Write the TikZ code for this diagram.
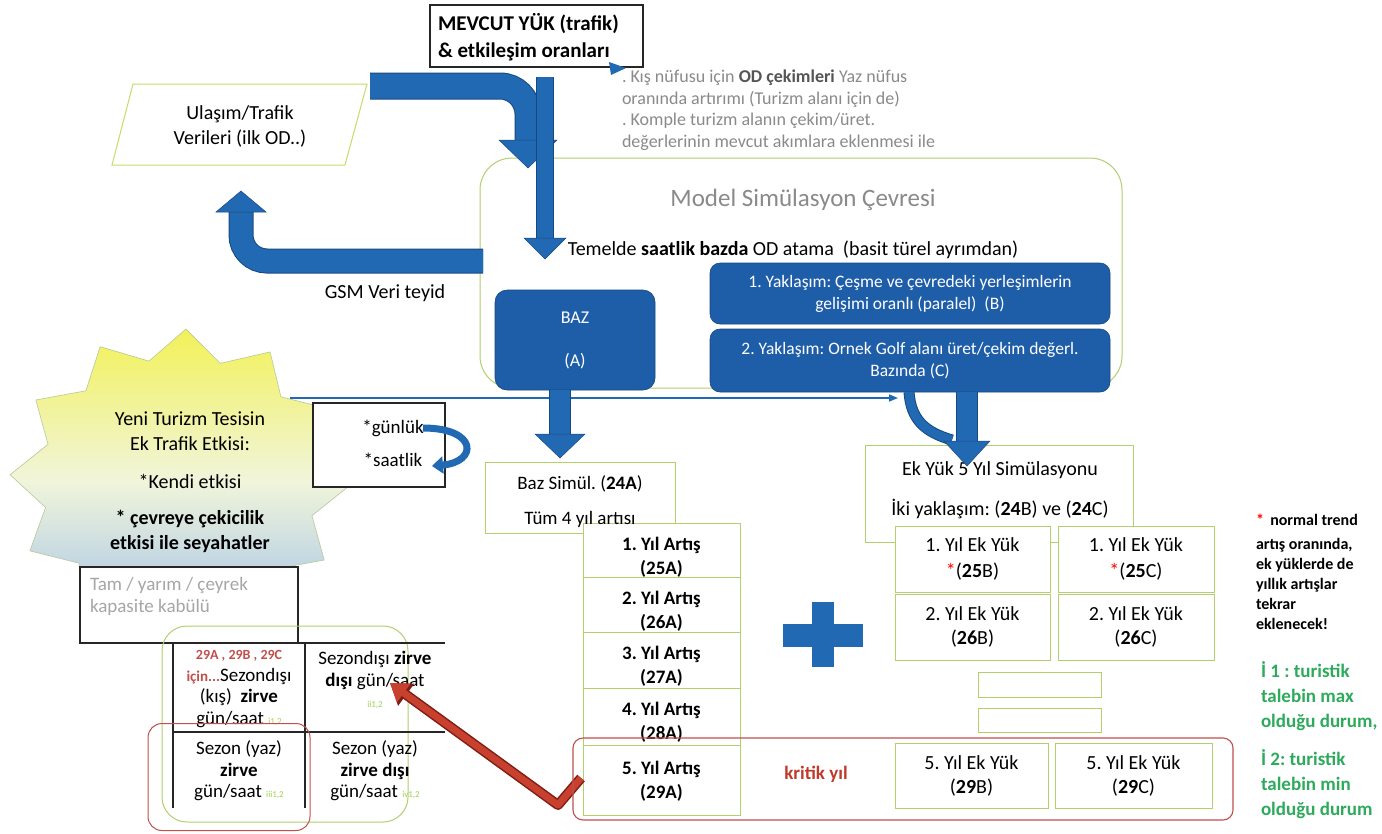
\documentclass[tikz,border=0pt]{standalone}
\usepackage{fontspec}
\setmainfont{Carlito}
\usetikzlibrary{arrows.meta}
\definecolor{bfill}{HTML}{1E5EA8}
\definecolor{bdark}{HTML}{17497F}
\definecolor{bband}{HTML}{2169B3}
\definecolor{gline}{HTML}{B3CF6E}
\definecolor{yline}{HTML}{C9DA6A}
\definecolor{rline}{HTML}{C0504D}
\definecolor{rtext}{HTML}{C0392B}
\definecolor{rarrow}{HTML}{C8402E}
\definecolor{rdark}{HTML}{7F1D14}
\definecolor{ngreen}{HTML}{2EAA5C}
\definecolor{lgreen}{HTML}{9BD34A}
\definecolor{tgray}{HTML}{8A8A8A}
\definecolor{dgray}{HTML}{555555}
\definecolor{lgray}{HTML}{A6A6A6}
\definecolor{starY}{HTML}{F2F158}
\definecolor{starM}{HTML}{F1F5DA}
\definecolor{starB}{HTML}{9EBFEA}
\definecolor{starL}{HTML}{B8C89A}
\newcommand\myfs[2]{\fontsize{#1}{#2}\selectfont}
\frenchspacing
\begin{document}
\begin{tikzpicture}[x=1pt,y=-1pt,
  every node/.style={inner sep=0pt,outer sep=0pt},
  gbox/.style={draw=gline,line width=0.9pt,fill=white},
  kbox/.style={draw=black!85,line width=1.1pt,fill=white},
  bbox/.style={fill=bfill,draw=bdark,line width=0.6pt,rounded corners=12pt,text=white},
  band/.style={draw=bband,line width=#1},
  bedge/.style={draw=bdark,line width=#1},
  head/.style={fill=bband,draw=bdark,line width=0.5pt}]
\useasboundingbox (0,0) rectangle (1382,833);
\fill[white] (0,0) rectangle (1382,833);

% ---------- star ----------
\path[draw=starL,line width=0.6pt,top color=starY,bottom color=starB,middle color=starM]
  plot[samples at={0,...,23}] ({180+ifthenelse(mod(\x,2)==0,170,138)*cos(88+15*\x)},{480-ifthenelse(mod(\x,2)==0,151,122)*sin(88+15*\x)}) -- cycle;
\node[align=center,font=\myfs{20}{25}] (startxt) at (190,482)
  {Yeni Turizm Tesisin\\Ek Trafik Etkisi:\\[13pt]*Kendi etkisi\\[11pt]\textbf{* çevreye çekicilik}\\\textbf{etkisi ile seyahatler}};

% ---------- top left ----------
\draw[draw=yline,line width=1pt,fill=white] (133,84) -- (367,84) -- (345,165) -- (112,165) -- cycle;
\node[align=center,font=\myfs{20}{25}] (ulasim) at (240,126) {Ulaşım/Trafik\\Verileri (ilk OD..)};

\node[kbox,minimum width=213pt,minimum height=62pt] (mevcut) at (536.5,36) {};
\node[anchor=west,align=left,font=\myfs{21}{27}\bfseries] (mevcuttxt) at (438,37) {MEVCUT YÜK (trafik)\\\& etkileşim oranları};

\node[anchor=west,align=left,text=tgray,font=\myfs{18}{21.5}] (desc) at (622,110)
  {. Kış nüfusu için {\color{dgray}\bfseries OD çekimleri} Yaz nüfus\\oranında artırımı (Turizm alanı için de)\\ . Komple turizm alanın çekim/üret.\\değerlerinin mevcut akımlara eklenmesi ile};

% ---------- model box ----------
\node[draw=gline,line width=1pt,rounded corners=32pt,minimum width=642pt,minimum height=230pt] (model) at (801,273) {};
\node[text=tgray,font=\myfs{25}{30}] (modeltitle) at (803,200) {Model Simülasyon Çevresi};
\node[font=\myfs{20}{24}] (temelde) at (793,250) {Temelde \textbf{saatlik bazda} OD atama~~(basit türel ayrımdan)};
\node[bbox,minimum width=160pt,minimum height=100pt,align=center,font=\myfs{18}{43}] (baz) at (575,340) {BAZ\\(A)};
\node[bbox,rounded corners=10pt,minimum width=400pt,minimum height=61pt,align=center,font=\myfs{17.5}{22}] (yak1) at (910,293.5)
  {1. Yaklaşım: Çeşme ve çevredeki yerleşimlerin\\gelişimi oranlı (paralel)~~(B)};
\node[bbox,rounded corners=10pt,minimum width=400pt,minimum height=63pt,align=center,font=\myfs{17.5}{22}] (yak2) at (910,360.5)
  {2. Yaklaşım: Ornek Golf alanı üret/çekim değerl.\\Bazında (C)};

% ---------- big blue arrows (top) ----------
\coordinate (aS) at (370,86); \coordinate (aC) at (528,86); \coordinate (aE) at (528,142);
\draw[bedge=27pt,rounded corners=28pt] (aS) -- (aC) -- (aE);
\draw[band=25pt,rounded corners=28pt] (aS) -- (aC) -- (aE);
\path[head] (499,140) -- (557,140) -- (528,168) -- cycle;

\coordinate (bS) at (545,77); \coordinate (bE) at (545,240);
\draw[bedge=18pt] (bS) -- (bE);
\draw[band=16pt] (bS) -- (bE);
\path[head] (524,238) -- (566,238) -- (545,259) -- cycle;
\path[fill=bband] (609,62) -- (626,68) -- (611,75) -- cycle;

% GSM arrow
\coordinate (gS) at (483,261); \coordinate (gC) at (241,261); \coordinate (gE) at (241,210);
\draw[bedge=25pt,rounded corners=26pt] (gS) -- (gC) -- (gE);
\draw[band=23pt,rounded corners=26pt] (gS) -- (gC) -- (gE);
\path[head] (216,212) -- (266,212) -- (241,191) -- cycle;
\node[font=\myfs{20}{24}] (gsm) at (385,293) {GSM Veri teyid};

% thin line from star
\coordinate (tS) at (290,398); \coordinate (tE) at (898,398);
\draw[bband,line width=1.6pt,-{Triangle[length=9pt,width=7pt]}] (tS) -- (tE);

% ---------- günlük box ----------
\node[kbox,minimum width=132pt,minimum height=84pt] (gunbox) at (379,445) {};
\node[align=center,font=\myfs{19}{33}] (gsa) at (393,443) {*günlük\\*saatlik};
\coordinate (cS) at (423,428); \coordinate (cE) at (432,466);
\draw[band=7pt,-{Triangle[length=11pt,width=17pt]}] (cS) .. controls (478,428) and (478,462) .. (cE);

% ---------- Tam box and table ----------
\node[kbox,minimum width=218pt,minimum height=76pt] (tam) at (189,605) {};
\node[anchor=west,align=left,text=lgray,font=\myfs{19}{22}] (tamtxt) at (90,596) {Tam / yarım / çeyrek\\kapasite kabülü};

\node[draw=gline,line width=1pt,rounded corners=25pt,minimum width=246pt,minimum height=196pt] (greenreg) at (285,724) {};
\draw[black!85,line width=1.1pt] (173,643) -- (445,643) (173,732) -- (445,732) (173,643) -- (173,808) (305,643) -- (305,808);

\node[align=center,font=\myfs{19}{21.5}] (c11) at (239,689)
  {{\color{rline}\bfseries\myfs{14}{16}29A , 29B , 29C}\\{\color{rline}\bfseries\myfs{15}{16}için...}Sezondışı\\(kış)~~\textbf{zirve}\\gün/saat {\color{lgreen}\myfs{9}{10}i1,2}};
\node[align=center,font=\myfs{19}{21.5}] (c12) at (375,680)
  {Sezondışı \textbf{zirve}\\\textbf{dışı} gün/saat\\{\color{lgreen}\myfs{9}{10}ii1,2}};
\node[align=center,font=\myfs{19}{21.5}] (c21) at (239,771)
  {Sezon (yaz)\\\textbf{zirve}\\gün/saat {\color{lgreen}\myfs{9}{10}iii1,2}};
\node[align=center,font=\myfs{19}{21.5}] (c22) at (375,771)
  {Sezon (yaz)\\\textbf{zirve dışı}\\gün/saat {\color{lgreen}\myfs{9}{10}iv1,2}};

\node[draw=rline,line width=1pt,rounded corners=14pt,minimum width=162pt,minimum height=107pt] (redreg) at (229,777) {};

% ---------- middle column ----------
\coordinate (zS) at (560,390); \coordinate (zE) at (560,436);
\draw[bedge=22pt] (zS) -- (zE);
\draw[band=20pt] (zS) -- (zE);
\path[head] (535,434) -- (585,434) -- (560,458) -- cycle;

\node[gbox,minimum width=190pt,minimum height=71pt] (bazsim) at (580,497.5) {};
\node[gbox,minimum width=157pt,minimum height=54pt] (r1) at (661.5,550) {};
\node[gbox,minimum width=157pt,minimum height=55pt] (r2) at (661.5,604.5) {};
\node[gbox,minimum width=157pt,minimum height=56pt] (r3) at (661.5,660) {};
\node[gbox,minimum width=157pt,minimum height=57pt] (r4) at (661.5,716.5) {};
\node[gbox,minimum width=157pt,minimum height=70pt] (r5) at (661.5,780) {};
\node[align=center,font=\myfs{19}{35}] (bazsimtxt) at (580,502) {Baz Simül. (\textbf{24A})\\Tüm 4 yıl artısı};
\node[align=center,font=\myfs{19}{24}\bfseries] (t1) at (661.5,557) {1. Yıl Artış\\(25A)};
\node[align=center,font=\myfs{19}{24}\bfseries] (t2) at (661.5,611) {2. Yıl Artış\\(26A)};
\node[align=center,font=\myfs{19}{24}\bfseries] (t3) at (661.5,666) {3. Yıl Artış\\(27A)};
\node[align=center,font=\myfs{19}{24}\bfseries] (t4) at (661.5,722) {4. Yıl Artış\\(28A)};
\node[align=center,font=\myfs{19}{24}\bfseries] (t5) at (661.5,781) {5. Yıl Artış\\(29A)};

% red arrow
\coordinate (rS) at (581,778); \coordinate (rC) at (558,805); \coordinate (rE) at (390,683);
\draw[rdark,line width=10pt,line join=round,-{Triangle[length=20pt,width=26pt]}] (rS) -- (rC) -- (rE);
\draw[rarrow,line width=7pt,line join=round,-{Triangle[length=17pt,width=22pt]}] (rS) -- (rC) -- (rE);

% plus
\fill[bband] (783,624) rectangle (863,647);
\fill[bband] (812,602) rectangle (834,667);

% ---------- right column ----------
\node[gbox,minimum width=268pt,minimum height=97pt] (ekyuk) at (999,493.5) {};
\node[gbox,minimum width=155pt,minimum height=66pt,align=center,font=\myfs{20}{26}] (b1) at (972.5,559) {1. Yıl Ek Yük\\{\color{red}*}(\textbf{25}B)};
\node[gbox,minimum width=156pt,minimum height=66pt,align=center,font=\myfs{20}{26}] (cc1) at (1136,559) {1. Yıl Ek Yük\\{\color{red}*}(\textbf{25}C)};
\node[gbox,minimum width=155pt,minimum height=66pt,align=center,font=\myfs{20}{24}] (b2) at (972.5,627) {2. Yıl Ek Yük\\(\textbf{26}B)};
\node[gbox,minimum width=156pt,minimum height=66pt,align=center,font=\myfs{20}{24}] (cc2) at (1136,627) {2. Yıl Ek Yük\\(\textbf{26}C)};
\node[gbox,minimum width=123pt,minimum height=25pt] (s1) at (1039.5,684.5) {};
\node[gbox,minimum width=123pt,minimum height=24pt] (s2) at (1039.5,720) {};
\node[gbox,minimum width=153pt,minimum height=65pt,align=center,font=\myfs{20}{24}] (b5) at (971.5,775.5) {5. Yıl Ek Yük\\(\textbf{29}B)};
\node[gbox,minimum width=157pt,minimum height=65pt,align=center,font=\myfs{20}{24}] (cc5) at (1133.5,775.5) {5. Yıl Ek Yük\\(\textbf{29}C)};
\node[align=center,font=\myfs{20}{40}] (ekyuktxt) at (1000,490) {Ek Yük 5 Yıl Simülasyonu\\İki yaklaşım: (\textbf{24}B) ve (\textbf{24}C)};

% arrows into Ek Yük
\coordinate (eS) at (967,392); \coordinate (eE) at (967,442);
\draw[bedge=11pt] (909,392) .. controls (911,420) and (925,432) .. (952,440);
\draw[band=9pt] (909,392) .. controls (911,420) and (925,432) .. (952,440);
\draw[bedge=22pt] (eS) -- (eE);
\draw[band=20pt] (eS) -- (eE);
\path[head] (944,441) -- (990,441) -- (967,466) -- cycle;

% kritik yıl
\node[draw=rline,line width=1.1pt,rounded corners=10pt,minimum width=660pt,minimum height=82pt] (kritik) at (903,779) {};
\node[text=rtext,font=\myfs{19}{22}\bfseries] (kritiktxt) at (816,774) {kritik yıl};

% ---------- notes ----------
\node[anchor=west,align=left,font=\myfs{16}{20}\bfseries] (note1) at (1256,572)
  {{\color{red}*}\, normal trend\\[4pt]artış oranında,\\ek yüklerde de\\yıllık artışlar\\tekrar\\eklenecek!};
\node[anchor=west,align=left,text=ngreen,font=\myfs{19}{25}\bfseries] (note2) at (1261,740)
  {İ 1 : turistik\\talebin max\\olduğu durum,\\[13pt]İ 2: turistik\\talebin min\\olduğu durum};
\end{tikzpicture}
\end{document}
